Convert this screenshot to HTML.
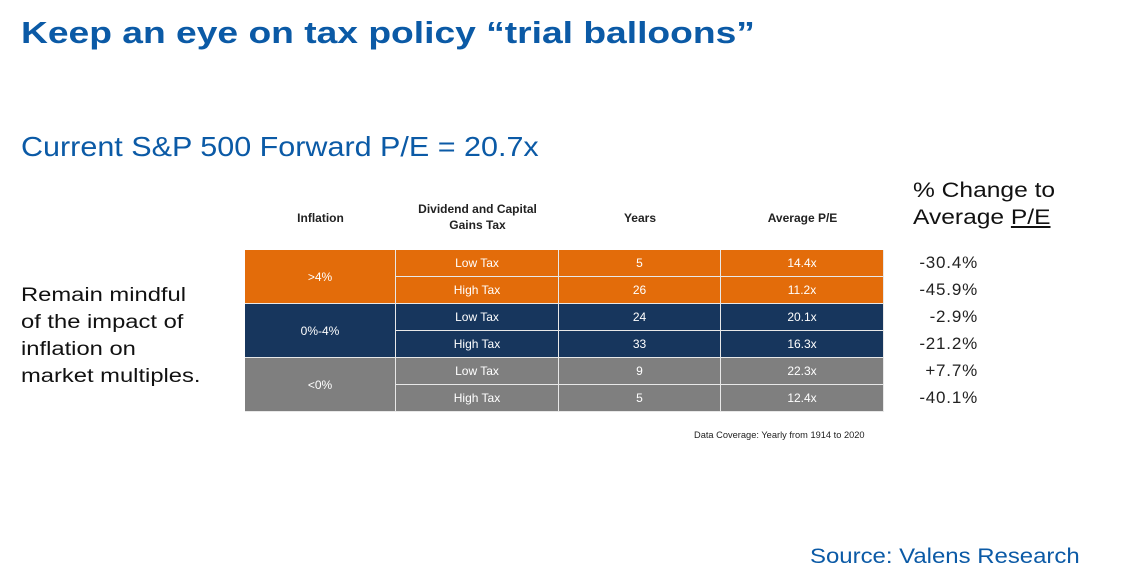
<!DOCTYPE html>
<html><head><meta charset="utf-8"><style>
body{margin:0;width:1141px;height:572px;background:#fff;position:relative;overflow:hidden;font-family:"Liberation Sans",sans-serif}
.a{position:absolute;white-space:nowrap;transform-origin:0 0}
.c{position:absolute;color:#fff;font-size:12px;text-align:center;display:flex;align-items:center;justify-content:center;box-sizing:border-box}
.h{position:absolute;font-size:12px;font-weight:bold;color:#222;text-align:center;line-height:16px}
.p{position:absolute;left:900px;font-size:17px;color:#222;width:78px;text-align:right;letter-spacing:0.8px}
</style></head><body>
<div class="a" style="left:21px;top:15px;font-size:31px;font-weight:bold;color:#0b5aa6;transform:scaleX(1.2)">Keep an eye on tax policy “trial balloons”</div>
<div class="a" style="left:21px;top:131px;font-size:28px;color:#0b5aa6;transform:scaleX(1.09)">Current S&amp;P 500 Forward P/E = 20.7x</div>
<div class="a" style="left:21px;top:282px;font-size:19px;line-height:27px;color:#111;transform:scaleX(1.25)">Remain mindful<br>of the impact of<br>inflation on<br>market multiples.</div>
<div class="a" style="left:913px;top:177px;font-size:21px;line-height:27px;color:#111;transform:scaleX(1.17)">% Change to<br>Average <u>P/E</u></div>
<div class="h" style="left:245px;top:210px;width:151px">Inflation</div>
<div class="h" style="left:396px;top:201px;width:163px">Dividend and Capital<br>Gains Tax</div>
<div class="h" style="left:559px;top:210px;width:162px">Years</div>
<div class="h" style="left:721px;top:210px;width:163px">Average P/E</div>
<div id="tbl"></div>
<div class="a" style="left:694px;top:430px;font-size:9px;color:#222;transform:scaleX(1.03)">Data Coverage: Yearly from 1914 to 2020</div>
<div class="a" style="left:810px;top:545px;font-size:21px;color:#0b5aa6;transform:scaleX(1.14)">Source: Valens Research</div>
<script>
const groups=[">4%","0%-4%","<0%"];
const colors=["#e36c0a","#17365d","#7f7f7f"];
const taxes=["Low Tax","High Tax","Low Tax","High Tax","Low Tax","High Tax"];
const years=["5","26","24","33","9","5"];
const pes=["14.4x","11.2x","20.1x","16.3x","22.3x","12.4x"];
const pcts=["-30.4%","-45.9%","-2.9%","-21.2%","+7.7%","-40.1%"];
const T=document.getElementById('tbl');
const top0=250,rh=27,cols=[245,396,559,721,884];
function cell(x,y,w,h,t,bg,name){const d=document.createElement('div');d.className='c';
d.style.cssText=`left:${x}px;top:${y}px;width:${w}px;height:${h}px;background:${bg};border-right:1px solid #e8e8e8;border-bottom:1px solid #e8e8e8`;
d.textContent=t;


T.appendChild(d);}
groups.forEach((g,i)=>cell(cols[0],top0+i*2*rh,cols[1]-cols[0],rh*2,g,colors[i],'inflation-cell'));
taxes.forEach((t,r)=>{const y=top0+r*rh,bg=colors[Math.floor(r/2)];
cell(cols[1],y,cols[2]-cols[1],rh,t,bg,'tax-cell');
cell(cols[2],y,cols[3]-cols[2],rh,years[r],bg,'years-cell');
cell(cols[3],y,cols[4]-cols[3],rh,pes[r],bg,'avg-pe-cell');
const p=document.createElement('div');p.className='p';p.style.top=(y+3)+'px';p.textContent=pcts[r];


document.body.appendChild(p);});
</script>
</body></html>
